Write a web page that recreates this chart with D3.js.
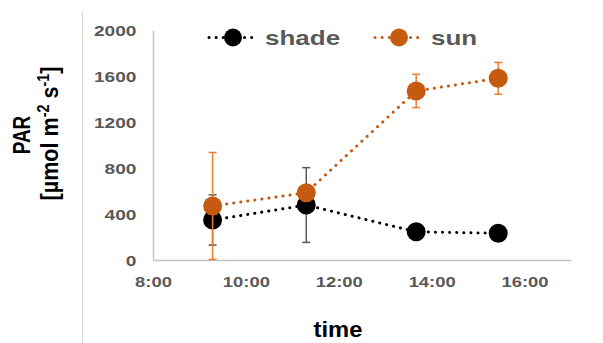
<!DOCTYPE html>
<html>
<head>
<meta charset="utf-8">
<script src="https://cdn.jsdelivr.net/npm/d3@7"></script>
<style>
  body { margin: 0; background: #fff; }
  svg { display: block; font-family: "Liberation Sans", Arial, sans-serif; }
</style>
</head>
<body>
<script>
// data
var times = ["9:17", "11:18", "13:40", "15:26"];
var shadeValues = [348, 478, 245, 232];
var shadeErrors = [218, 325, 25, 20];
var sunValues = [470, 585, 1470, 1580];
var sunErrors = [465, 5, 145, 138];
var yTicks = [0, 400, 800, 1200, 1600, 2000];
var xTicks = ["8:00", "10:00", "12:00", "14:00", "16:00"];

var parse = d3.timeParse("%H:%M");

var W = 603, H = 343;
var svg = d3.select("body").append("svg")
    .attr("width", W)
    .attr("height", H);

var x = d3.scaleTime()
    .domain([parse("8:00"), parse("17:00")])
    .range([153, 571]);

var y = d3.scaleLinear()
    .domain([0, 2000])
    .range([260, 30]);

// faint border line on the left
svg.append("line")
    .attr("x1", 82.5).attr("x2", 82.5)
    .attr("y1", 11).attr("y2", H)
    .attr("stroke", "#d9d9d9").attr("stroke-width", 1);

// axes
var yAxis = d3.axisLeft(y).tickValues(yTicks).tickFormat(d3.format("d")).tickSize(0);
var xAxis = d3.axisBottom(x)
    .tickValues(xTicks.map(parse))
    .tickFormat(d3.timeFormat("%-H:%M"))
    .tickSize(0);

var gy = svg.append("g").attr("transform", "translate(153,0)").call(yAxis);
var gx = svg.append("g").attr("transform", "translate(0,260)").call(xAxis);

[gx, gy].forEach(function (g) {
    g.select(".domain").attr("stroke", "#c4c4c4").attr("stroke-width", 1.5);
    g.selectAll("text")
        .attr("fill", "#595959")
        .attr("x", 0).attr("y", 0)
        .style("font-size", "14.5px")
        .style("font-weight", "bold");
});
// the reference text is stretched sideways
gy.selectAll("text").attr("dy", 5).attr("transform", "translate(-16.5,0) scale(1.32,1)");
gx.selectAll("text").attr("dy", 0).attr("transform", "translate(0,27) scale(1.27,1)");

// axis titles
svg.append("text")
    .attr("transform", "translate(30,135) rotate(-90) scale(1.05,1.32)")
    .attr("text-anchor", "middle")
    .style("font-size", "18px").style("font-weight", "bold")
    .text("PAR");

var t2 = svg.append("text")
    .attr("transform", "translate(58,133.5) rotate(-90) scale(1.2,1.3)")
    .attr("text-anchor", "middle")
    .style("font-size", "18px").style("font-weight", "bold");
t2.append("tspan").text("[µmol m");
t2.append("tspan").attr("dy", -7).style("font-size", "12px").text("-2");
t2.append("tspan").attr("dy", 7).text(" s");
t2.append("tspan").attr("dy", -7).style("font-size", "12px").text("-1");
t2.append("tspan").attr("dy", 7).text("]");

svg.append("text")
    .attr("transform", "translate(338,337) scale(1.08,1)")
    .attr("text-anchor", "middle")
    .style("font-size", "22px").style("font-weight", "bold")
    .text("time");

var series = [
    { name: "shade", values: shadeValues, errors: shadeErrors, color: "#000000", errColor: "#595959", lx: 209 },
    { name: "sun", values: sunValues, errors: sunErrors, color: "#c55a11", errColor: "#ed7d31", lx: 375 }
];

var line = d3.line()
    .x(function (d) { return x(d.t); })
    .y(function (d) { return y(d.v); });

series.forEach(function (s) {
    var pts = times.map(function (t, i) {
        return { t: parse(t), v: s.values[i], e: s.errors[i] };
    });

    // error bars
    var eb = svg.append("g").attr("stroke", s.errColor).attr("stroke-width", 1.5);
    pts.forEach(function (d) {
        var cx = x(d.t);
        var lo = Math.max(0, d.v - d.e), hi = d.v + d.e;
        eb.append("line").attr("x1", cx).attr("x2", cx).attr("y1", y(lo)).attr("y2", y(hi));
        eb.append("line").attr("x1", cx - 4).attr("x2", cx + 4).attr("y1", y(lo)).attr("y2", y(lo));
        eb.append("line").attr("x1", cx - 4).attr("x2", cx + 4).attr("y1", y(hi)).attr("y2", y(hi));
    });

    svg.append("path")
        .attr("d", line(pts))
        .attr("fill", "none")
        .attr("stroke", s.color)
        .attr("stroke-width", 3)
        .attr("stroke-linecap", "round")
        .attr("stroke-dasharray", "0.1 7");

    svg.selectAll(null)
        .data(pts)
        .enter().append("circle")
        .attr("cx", function (d) { return x(d.t); })
        .attr("cy", function (d) { return y(d.v); })
        .attr("r", 9.5)
        .attr("fill", s.color);

    // legend
    var lg = svg.append("g").attr("transform", "translate(" + s.lx + ",37.5)");
    lg.append("line")
        .attr("x1", 0).attr("x2", 46)
        .attr("stroke", s.color).attr("stroke-width", 3)
        .attr("stroke-linecap", "round")
        .attr("stroke-dasharray", "0.1 7");
    lg.append("circle").attr("cx", 24).attr("r", 9).attr("fill", s.color);
    lg.append("text")
        .attr("transform", "translate(56,7) scale(1.3,1)")
        .attr("fill", "#595959")
        .style("font-size", "20px").style("font-weight", "bold")
        .text(s.name);
});
</script>
</body>
</html>
